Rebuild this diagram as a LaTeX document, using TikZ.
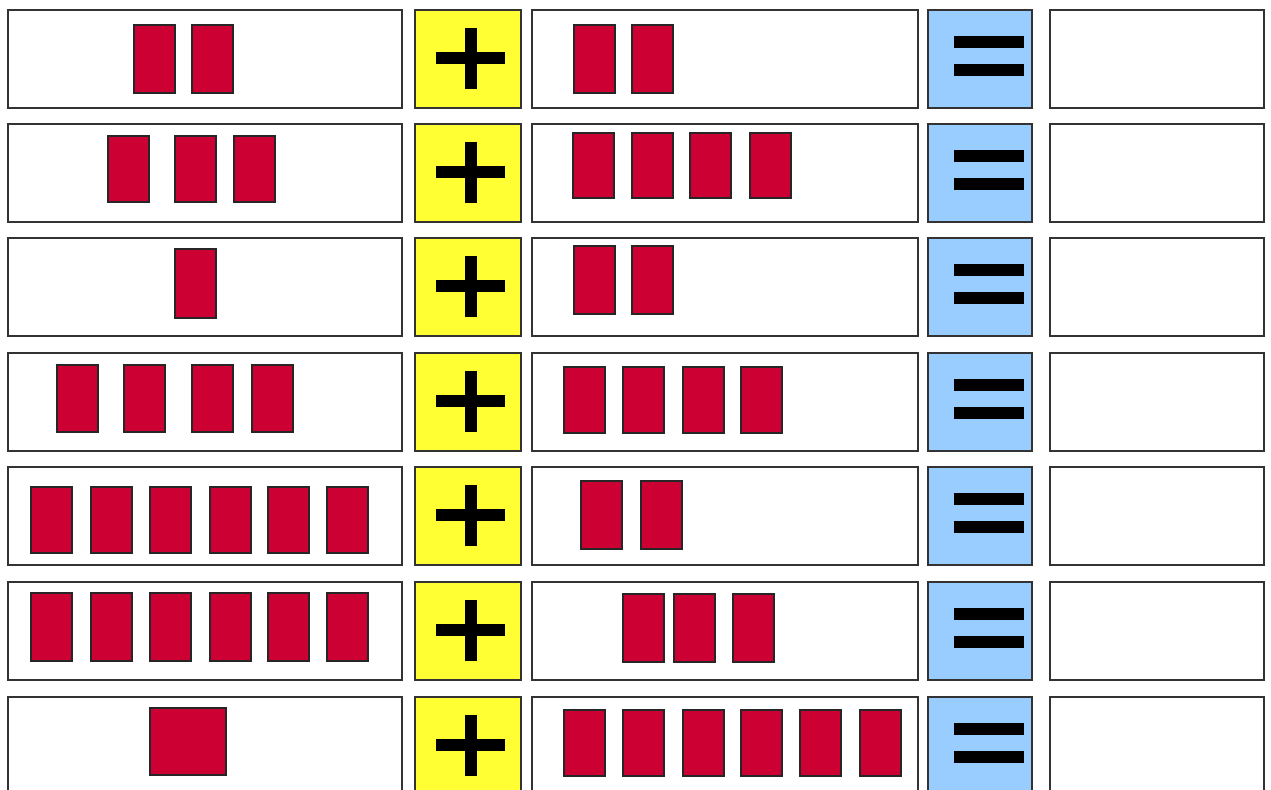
\documentclass[tikz,border=0pt]{standalone}
\usepackage{tikz}
\definecolor{blockred}{HTML}{CC0033}
\definecolor{plusyellow}{HTML}{FFFF33}
\definecolor{eqblue}{HTML}{99CCFF}

\begin{document}
\begin{tikzpicture}[
    x=0.02cm, y=-0.02cm,
    % box styles
    cell/.style={draw=black!80, line width=0.9pt, fill=white},
    plusbox/.style={draw=black!80, line width=0.9pt, fill=plusyellow},
    eqbox/.style={draw=black!80, line width=0.9pt, fill=eqblue},
    block/.style={draw=black!85, line width=0.6pt, fill=blockred},
    sign/.style={fill=black}
  ]

  % page frame
  \useasboundingbox (0,0) rectangle (1271,789);
  \clip (0,0) rectangle (1271,789);

  % --- rows of boxes with the plus and equals signs ---
  \foreach \t in {10,124,238,353,467,582,697} {
    \draw[cell] (8,\t) rectangle ++(394,98);
    \draw[plusbox] (415,\t) rectangle ++(106,98);
    \fill[sign] (436,\t+42) rectangle ++(69,12);
    \fill[sign] (465,\t+18) rectangle ++(12,61);
    \draw[cell] (532,\t) rectangle ++(386,98);
    \draw[eqbox] (928,\t) rectangle ++(104,98);
    \fill[sign] (954,\t+26) rectangle ++(70,12);
    \fill[sign] (954,\t+54) rectangle ++(70,12);
    \draw[cell] (1050,\t) rectangle ++(214,98);
  }

  % --- row 1: 2 + 2 ---
  \foreach \x in {134,192} \draw[block] (\x,25) rectangle ++(41,68);
  \foreach \x in {574,632} \draw[block] (\x,25) rectangle ++(41,68);

  % --- row 2: 3 + 4 ---
  \foreach \x in {108,175,234} \draw[block] (\x,136) rectangle ++(41,66);
  \foreach \x in {573,632,690,750} \draw[block] (\x,133) rectangle ++(41,65);

  % --- row 3: 1 + 2 ---
  \draw[block] (175,249) rectangle ++(41,69);
  \foreach \x in {574,632} \draw[block] (\x,246) rectangle ++(41,68);

  % --- row 4: 4 + 4 ---
  \foreach \x in {57,124,192,252} \draw[block] (\x,365) rectangle ++(41,67);
  \foreach \x in {564,623,683,741} \draw[block] (\x,367) rectangle ++(41,66);

  % --- row 5: 6 + 2 ---
  \foreach \x in {31,91,150,210,268,327} \draw[block] (\x,487) rectangle ++(41,66);
  \foreach \x in {581,641} \draw[block] (\x,481) rectangle ++(41,68);

  % --- row 6: 6 + 3 ---
  \foreach \x in {31,91,150,210,268,327} \draw[block] (\x,593) rectangle ++(41,68);
  \foreach \x in {623,674,733} \draw[block] (\x,594) rectangle ++(41,68);

  % --- row 7: square + 6 ---
  \draw[block] (150,708) rectangle ++(76,67);
  \foreach \x in {564,623,683,741,800,860} \draw[block] (\x,710) rectangle ++(41,66);

\end{tikzpicture}
\end{document}
